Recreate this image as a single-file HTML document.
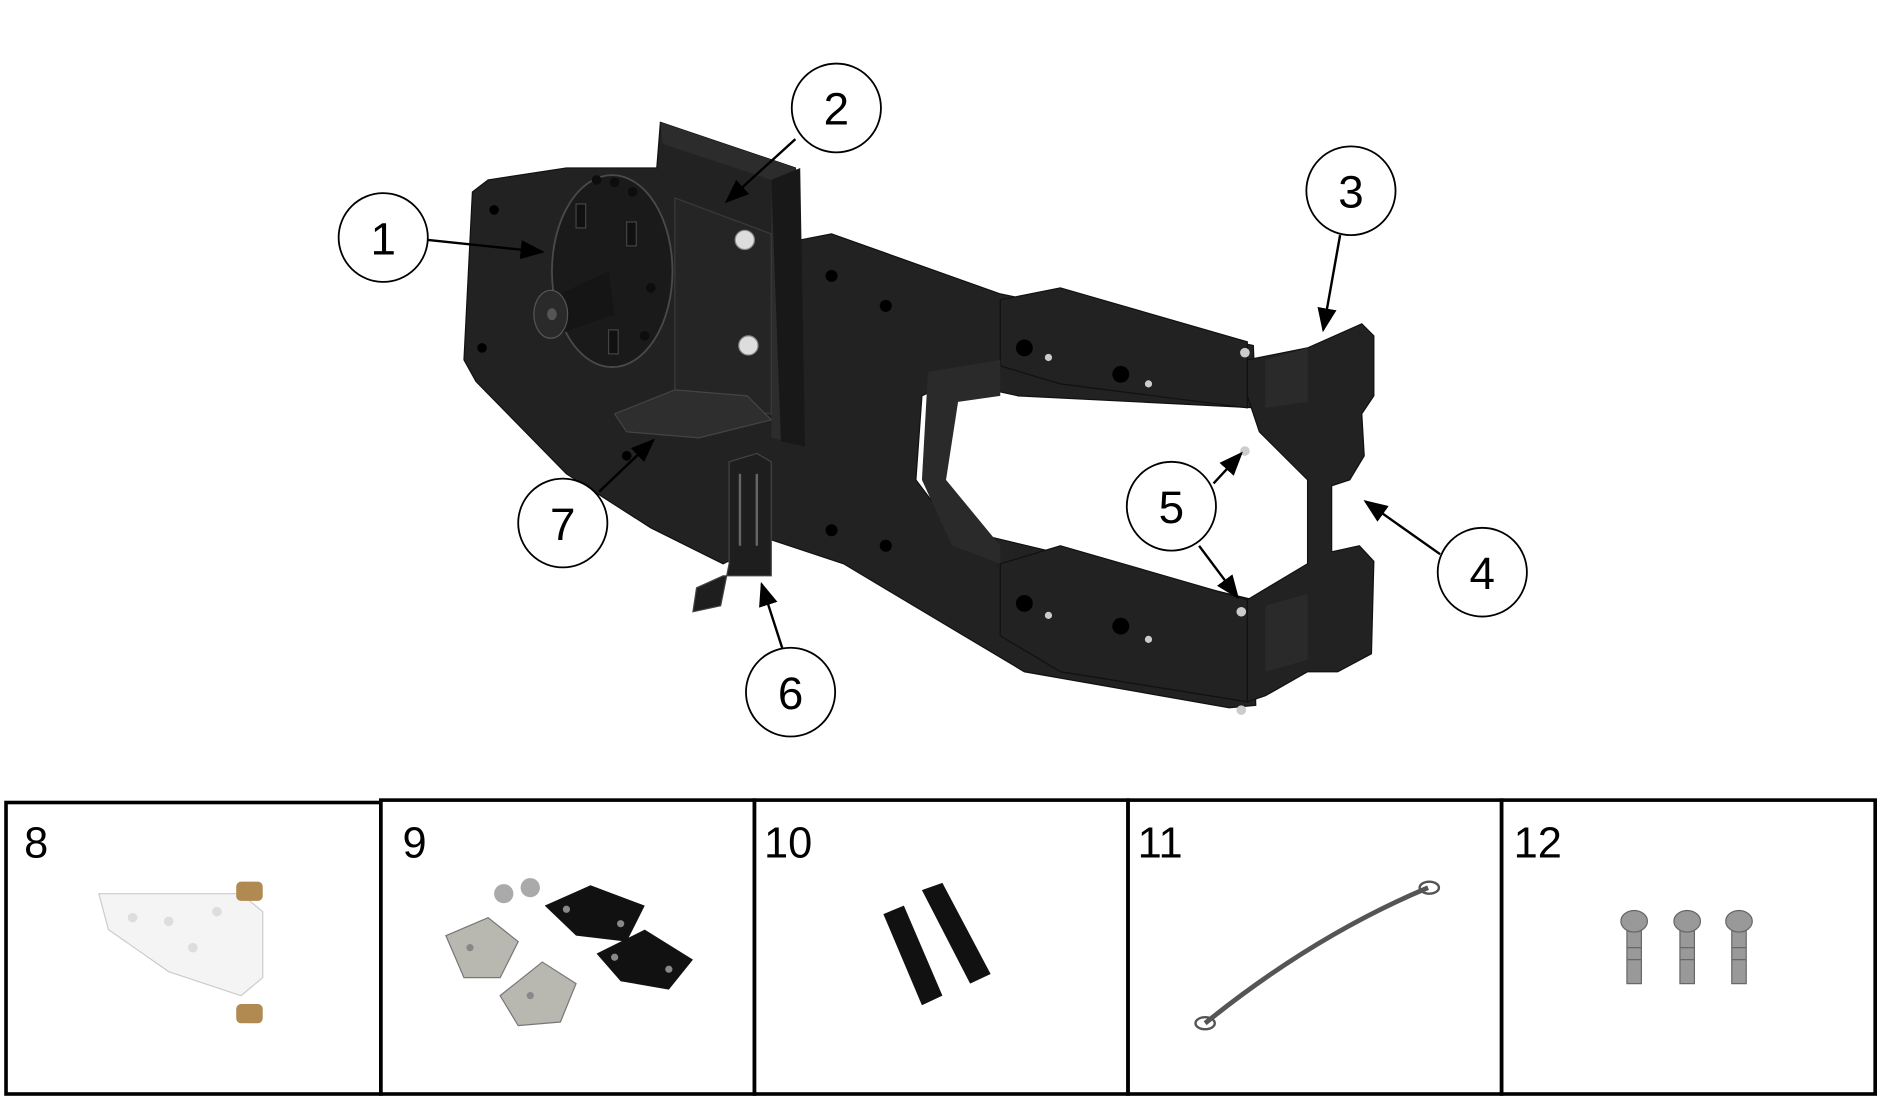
<!DOCTYPE html>
<html><head><meta charset="utf-8"><style>
html,body{margin:0;padding:0;background:#fff;width:1880px;height:1100px;overflow:hidden}
svg{display:block}
text{font-family:"Liberation Sans",sans-serif}
</style></head><body>
<svg width="1880" height="1100" viewBox="0 0 1560 917" preserveAspectRatio="none" xmlns="http://www.w3.org/2000/svg">
<defs><marker id="a" markerWidth="10" markerHeight="8" refX="9" refY="4" orient="auto"><path d="M0,0 L10,4 L0,8 z" fill="#000"/></marker></defs>
<!-- main body -->
<g fill="#222" stroke="#111" stroke-width="1">
<polygon points="392,160 405,150 470,140 545,140 548,102 660,140 664,200 690,195 830,245 1040,288 1042,340 845,330 790,318 765,330 760,400 790,440 840,452 1040,500 1042,588 1020,590 850,560 700,470 640,450 600,470 540,440 470,395 395,318 385,300 388,240"/>
<polygon points="1085,290 1130,270 1140,280 1140,330 1130,345 1132,380 1120,400 1105,405 1105,460 1128,455 1140,468 1138,545 1110,560 1085,560 1050,580 1035,585 1035,500 1085,470 1085,400 1045,360 1035,330 1035,300"/>
<polygon points="880,240 1035,285 1035,340 880,320 830,305 830,250"/>
<polygon points="880,455 1035,500 1035,585 880,560 830,530 830,470"/>
</g>
<!-- vertical plate 2 shading -->
<polygon points="548,102 660,140 664,370 640,365 640,150 550,120" fill="#2c2c2c"/>
<polygon points="640,150 664,140 668,372 648,368" fill="#181818"/>
<polygon points="560,165 640,195 640,345 560,335" fill="#252525" stroke="#3a3a3a"/>
<g fill="#2a2a2a">
<polygon points="770,310 830,300 830,330 795,335 785,400 830,455 830,470 790,455 765,400"/>
<polygon points="1050,300 1085,290 1085,335 1050,340"/>
<polygon points="1050,505 1085,495 1085,550 1050,560"/>
</g>
<!-- hub -->
<ellipse cx="508" cy="226" rx="50" ry="80" fill="#1a1a1a" stroke="#4a4a4a" stroke-width="1.5"/>
<polygon points="450,252 505,226 510,262 460,280" fill="#151515"/>
<ellipse cx="457" cy="262" rx="14" ry="20" fill="#2a2a2a" stroke="#555"/>
<ellipse cx="458" cy="262" rx="4" ry="5" fill="#555"/>
<g fill="#111" stroke="#444"><rect x="478" y="170" width="8" height="20"/><rect x="520" y="185" width="8" height="20"/><rect x="505" y="275" width="8" height="20"/></g>
<g fill="#0d0d0d"><circle cx="495" cy="150" r="4"/><circle cx="510" cy="152" r="4"/><circle cx="525" cy="160" r="4"/><circle cx="540" cy="240" r="4"/><circle cx="535" cy="280" r="4"/></g>
<g fill="#ddd" stroke="#888"><circle cx="618" cy="200" r="8"/><circle cx="621" cy="288" r="8"/></g>
<g fill="#ccc"><circle cx="1033" cy="294" r="4"/><circle cx="1033" cy="376" r="4"/><circle cx="1030" cy="510" r="4"/><circle cx="1030" cy="592" r="4"/><circle cx="870" cy="298" r="3"/><circle cx="953" cy="320" r="3"/><circle cx="870" cy="513" r="3"/><circle cx="953" cy="533" r="3"/></g>
<g fill="#000"><circle cx="850" cy="290" r="7"/><circle cx="930" cy="312" r="7"/><circle cx="850" cy="503" r="7"/><circle cx="930" cy="522" r="7"/><circle cx="690" cy="230" r="5"/><circle cx="735" cy="255" r="5"/><circle cx="690" cy="442" r="5"/><circle cx="735" cy="455" r="5"/><circle cx="410" cy="175" r="4"/><circle cx="400" cy="290" r="4"/><circle cx="520" cy="380" r="4"/></g>
<!-- lower bracket 6/7 -->
<polygon points="510,345 560,325 620,330 640,350 580,365 520,360" fill="#2e2e2e" stroke="#444"/>
<polygon points="605,385 628,378 640,385 640,480 600,480 578,490 575,510 598,505 605,470" fill="#1e1e1e" stroke="#444"/>
<g stroke="#666" stroke-width="2"><line x1="614" y1="395" x2="614" y2="455"/><line x1="628" y1="395" x2="628" y2="455"/></g>
<!-- leader lines -->
<g stroke="#000" stroke-width="2" fill="none" marker-end="url(#a)">
<line x1="355" y1="200" x2="450" y2="210"/>
<line x1="660" y1="116" x2="603" y2="168"/>
<line x1="1112" y1="196" x2="1098" y2="275"/>
<line x1="1195" y1="462" x2="1133" y2="418"/>
<line x1="1007" y1="403" x2="1030" y2="378"/>
<line x1="995" y1="455" x2="1027" y2="498"/>
<line x1="649" y1="540" x2="632" y2="487"/>
<line x1="497" y1="410" x2="542" y2="367"/>
</g>
<g fill="#fff" stroke="#000" stroke-width="1.5">
<circle cx="318" cy="198" r="37"/><circle cx="694" cy="90" r="37"/><circle cx="1121" cy="159" r="37"/><circle cx="1230" cy="477" r="37"/><circle cx="972" cy="422" r="37"/><circle cx="656" cy="577" r="37"/><circle cx="467" cy="436" r="37"/>
</g>
<g font-size="38" text-anchor="middle" fill="#000">
<text x="318" y="212">1</text><text x="694" y="104">2</text><text x="1121" y="173">3</text><text x="1230" y="491">4</text><text x="972" y="436">5</text><text x="656" y="591">6</text><text x="467" y="450">7</text>
</g>
<!-- panels -->
<g fill="none" stroke="#000" stroke-width="3">
<rect x="5" y="669" width="311" height="243"/>
<rect x="316" y="667" width="310" height="245"/>
<rect x="626" y="667" width="310" height="245"/>
<rect x="936" y="667" width="310" height="245"/>
<rect x="1246" y="667" width="310" height="245"/>
</g>
<g font-size="36" fill="#000">
<text x="20" y="715">8</text><text x="334" y="715">9</text><text x="634" y="715">10</text><text x="944" y="715">11</text><text x="1256" y="715">12</text>
</g>
<!-- 8 -->
<polygon points="82,745 200,745 218,760 218,815 200,830 140,810 90,775" fill="#f4f4f4" stroke="#ccc"/>
<g fill="#ddd"><circle cx="110" cy="765" r="4"/><circle cx="140" cy="768" r="4"/><circle cx="160" cy="790" r="4"/><circle cx="180" cy="760" r="4"/></g>
<rect x="196" y="735" width="22" height="16" rx="4" fill="#b08a50"/>
<rect x="196" y="837" width="22" height="16" rx="4" fill="#b08a50"/>
<!-- 9 -->
<g fill="#b8b8b0" stroke="#777"><polygon points="370,780 405,765 430,785 415,815 385,815"/><polygon points="415,830 450,802 478,820 465,852 430,855"/></g>
<g fill="#111"><polygon points="452,755 490,738 535,755 520,785 478,780"/><polygon points="495,795 535,775 575,800 555,825 515,818"/></g>
<g fill="#888"><circle cx="470" cy="758" r="3"/><circle cx="515" cy="770" r="3"/><circle cx="510" cy="798" r="3"/><circle cx="555" cy="808" r="3"/><circle cx="390" cy="790" r="3"/><circle cx="440" cy="830" r="3"/></g>
<circle cx="418" cy="745" r="8" fill="#aaa"/><circle cx="440" cy="740" r="8" fill="#aaa"/>
<!-- 10 -->
<g fill="#111"><polygon points="733,762 750,755 782,830 765,838"/><polygon points="765,742 782,736 822,812 805,820"/></g>
<!-- 11 -->
<path d="M1000,853 Q1090,780 1185,740" stroke="#555" stroke-width="4" fill="none"/>
<ellipse cx="1000" cy="853" rx="8" ry="5" fill="none" stroke="#555" stroke-width="2"/>
<ellipse cx="1186" cy="740" rx="8" ry="5" fill="none" stroke="#555" stroke-width="2"/>
<!-- 12 -->
<g fill="#999" stroke="#666">
<rect x="1350" y="770" width="12" height="50"/><ellipse cx="1356" cy="768" rx="11" ry="9"/>
<rect x="1394" y="770" width="12" height="50"/><ellipse cx="1400" cy="768" rx="11" ry="9"/>
<rect x="1437" y="770" width="12" height="50"/><ellipse cx="1443" cy="768" rx="11" ry="9"/>
</g>
<g stroke="#666" stroke-width="1"><line x1="1350" y1="790" x2="1362" y2="790"/><line x1="1350" y1="800" x2="1362" y2="800"/><line x1="1394" y1="790" x2="1406" y2="790"/><line x1="1394" y1="800" x2="1406" y2="800"/><line x1="1437" y1="790" x2="1449" y2="790"/><line x1="1437" y1="800" x2="1449" y2="800"/></g>
</svg>
</body></html>
